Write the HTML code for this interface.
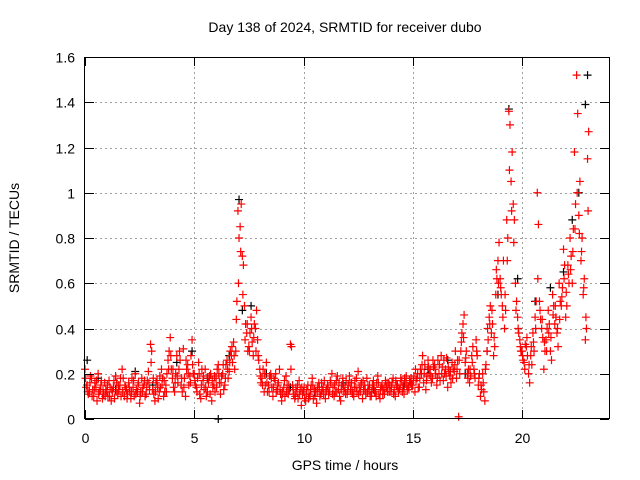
<!DOCTYPE html>
<html><head><meta charset="utf-8"><style>
body{margin:0;background:#fff}
svg{display:block;font-family:"Liberation Sans",Arial,sans-serif}
</style></head><body>
<svg id="chart" width="640" height="480">
<text x="345" y="32" font-size="14" text-anchor="middle">Day 138 of 2024, SRMTID for receiver dubo</text>
<g id="grid"></g>
<g id="marks"></g>
<rect x="84.5" y="57.5" width="525" height="361" fill="none" stroke="#000"/>
<g id="axes"></g>
<text x="345" y="470" font-size="14" text-anchor="middle">GPS time / hours</text>
<text transform="translate(19,238) rotate(-90)" font-size="14" text-anchor="middle">SRMTID / TECUs</text>
</svg>
<script>
const xTicks=[0,5,10,15,20];
const yTicks=[0,0.2,0.4,0.6,0.8,1,1.2,1.4,1.6];
const yTickLabels=["0","0.2","0.4","0.6","0.8","1","1.2","1.4","1.6"];
const redA=[.22,.15,.12,.18,.10,.14,.20,.13,.09,.16,
.12,.17,.08,.14,.19,.11,.15,.22,.10,.13,
.16,.09,.14,.20,.12,.07,.18,.15,.11,.21,
.33,.13,.08,.17,.12,.22,.10,.15,.26,.36,
.18,.12,.28,.22,.15,.31,.10,.24,.19,.35,
.20,.14,.25,.09,.17,.22,.12,.19,.08,.15,
.18,.24,.11,.20,.15,.26,.21,.28,.34,.30,
.92,.85,.72,.50,.38,.32,.45,.28,.40,.35,
.22,.18,.12,.25,.15,.20,.10,.17,.13,.22,
.08,.14,.19,.11,.33,.15,.09,.12,.17,.06,
.12,.08,.15,.10,.18,.13,.07,.16,.11,.14,
.09,.15,.12,.20,.10,.17,.13,.08,.18,.14,
.11,.19,.16,.10,.14,.21,.12,.09,.15,.18,
.13,.10,.17,.12,.19,.09,.15,.11,.14,.16,
.12,.18,.10,.15,.13,.17,.11,.19,.14,.16,
.15,.12,.18,.14,.20,.16,.13,.26,.22,.18,
.24,.15,.20,.28,.17,.22,.14,.19,.25,.21,
.18,.01,.30,.42,.25,.20,.16,.28,.22,.35,
.15,.10,.20,.08,.30,.45,.38,.28,.55,.70,
.62,.50,.40,.88,1.36,1.05,.95,.60,.45,.35,
.30,.25,.32,.20,.28,.38,.45,1.00,.52,.40,
.22,.35,.48,.30,.55,.42,.38,.60,.50,.75,
.45,.68,.80,.60,1.18,1.52,.90,.70,.55,.35,
1.15];
const redB=[.14,.11,.19,.13,.16,.08,.12,.17,.11,.13,
.10,.14,.12,.09,.16,.13,.10,.18,.14,.11,
.12,.18,.10,.13,.16,.12,.14,.10,.17,.13,
.30,.11,.16,.09,.14,.18,.12,.20,.30,.22,
.14,.20,.16,.26,.12,.18,.22,.15,.28,.20,
.15,.18,.11,.22,.13,.10,.16,.20,.14,.12,
.22,.16,.19,.13,.24,.18,.30,.25,.22,.52,
.80,.95,.68,.42,.30,.38,.34,.42,.48,.26,
.16,.22,.15,.12,.19,.14,.18,.12,.16,.11,
.12,.10,.15,.13,.32,.11,.14,.09,.13,.11,
.09,.13,.11,.15,.09,.12,.14,.10,.13,.17,
.13,.11,.16,.14,.12,.19,.10,.15,.12,.17,
.15,.13,.11,.17,.12,.14,.16,.13,.11,.15,
.10,.15,.12,.16,.11,.14,.13,.17,.12,.15,
.16,.13,.15,.12,.18,.14,.16,.13,.17,.15,
.19,.17,.14,.22,.28,.24,.19,.20,.16,.23,
.20,.26,.17,.23,.20,.27,.21,.16,.22,.30,
.26,.20,.38,.46,.30,.22,.19,.32,.18,.28,
.20,.13,.12,.24,.35,.50,.42,.32,.62,.78,
.55,.70,.48,.80,1.30,1.18,.88,.52,.38,.30,
.26,.33,.28,.16,.24,.30,.52,.86,.44,.36,
.30,.40,.42,.26,.50,.45,.32,.52,.58,.68,
.50,.60,.72,.84,.95,1.35,1.05,.80,.62,.40,
1.27];
const redC=[.18,.12,.16,.10,.13,.17,.11,.15,.13,.10,
.15,.10,.13,.17,.12,.15,.18,.12,.15,.09,
.14,.12,.17,.11,.15,.10,.12,.17,.14,.16,
.25,.18,.12,.14,.19,.15,.17,.12,.22,.28,
.22,.16,.19,.30,.18,.14,.26,.20,.16,.24,
.17,.12,.20,.15,.19,.14,.18,.11,.17,.19,
.14,.20,.16,.24,.18,.22,.25,.32,.28,.44,
.60,.74,.55,.35,.42,.30,.40,.36,.30,.28,
.19,.15,.20,.16,.12,.18,.14,.20,.15,.13,
.11,.17,.12,.15,.22,.13,.10,.15,.11,.14,
.14,.11,.09,.13,.15,.10,.12,.14,.16,.11,
.12,.14,.17,.11,.15,.12,.16,.13,.15,.11,
.13,.16,.12,.14,.18,.11,.15,.17,.13,.12,
.15,.12,.14,.10,.16,.13,.11,.14,.16,.12,
.14,.11,.17,.14,.15,.12,.18,.15,.13,.18,
.17,.22,.20,.18,.24,.20,.17,.23,.19,.26,
.22,.18,.24,.20,.26,.19,.23,.21,.18,.24,
.22,.26,.34,.36,.27,.18,.22,.25,.20,.30,
.18,.15,.16,.22,.40,.42,.48,.36,.66,.60,
.58,.45,.55,.70,1.10,.92,.78,.48,.40,.32,
.28,.22,.36,.24,.32,.34,.40,.62,.48,.44,
.34,.30,.38,.36,.46,.50,.40,.44,.54,.62,
.56,.64,.66,.74,.84,1.00,.82,.74,.58,.45,
.92];
const blackT=[0.1,0.6,1.4,2.3,3.1,4.2,4.9,5.6,6.1,6.6,7.05,7.2,7.6,8.3,9.4,10.5,11.8,13.2,14.6,15.7,16.6,17.4,18.4,18.9,19.4,19.8,20.6,21.3,21.9,22.3,22.6,22.9,23.0];
const blackV=[.26,.18,.13,.21,.15,.25,.30,.18,0.0,.28,.97,.48,.50,.20,.14,.12,.16,.13,.15,.22,.26,.20,.30,.55,1.37,.62,.52,.58,.65,.88,1.00,1.39,1.52];
const X0=85,XS=21.85,Y0=419,YS=226.25;
const xp=t=>X0+t*XS, yp=v=>Y0-v*YS;
const NS="http://www.w3.org/2000/svg";
const grid=document.getElementById('grid'),axes=document.getElementById('axes'),marks=document.getElementById('marks');
function mk(tag,attrs,parent){const e=document.createElementNS(NS,tag);for(const k in attrs)e.setAttribute(k,attrs[k]);parent.appendChild(e);return e;}
xTicks.forEach(t=>{const x=Math.round(xp(t))+.5;
 if(t>0){const g=mk('line',{x1:x,x2:x,y1:57,y2:419,stroke:'#a0a0a0','stroke-dasharray':'2,3'},grid);
 
 }
 mk('line',{x1:x,x2:x,y1:419,y2:410,stroke:'#000'},axes);mk('line',{x1:x,x2:x,y1:57,y2:66,stroke:'#000'},axes);
 const l=mk('text',{x:x,y:443,'font-size':14,'text-anchor':'middle'},axes);l.textContent=t;
 
 });
yTicks.forEach((v,i)=>{const y=Math.round(yp(v))+.5;
 if(i>0&&i<yTicks.length-1){const g=mk('line',{x1:85,x2:609,y1:y,y2:y,stroke:'#a0a0a0','stroke-dasharray':'2,3'},grid);
 
 }
 mk('line',{x1:85,x2:94,y1:y,y2:y,stroke:'#000'},axes);mk('line',{x1:600,x2:609,y1:y,y2:y,stroke:'#000'},axes);
 const l=mk('text',{x:75,y:y+5,'font-size':14,'text-anchor':'end'},axes);l.textContent=yTickLabels[i];
 
 });
function plus(t,v,col,name){const x=xp(t),y=yp(v);
 const p=mk('path',{d:`M${x-4} ${y}H${x+4}M${x} ${y-4}V${y+4}`,stroke:col,'stroke-width':1.2,fill:'none'},marks);
 
 }
blackT.forEach((t,i)=>plus(t,blackV[i],'#000','black-point'));
redA.forEach((v,i)=>plus(i*0.1,v,'#ff0000','red-point'));
redB.forEach((v,i)=>plus(i*0.1+0.05,v,'#ff0000','red-point'));
redC.forEach((v,i)=>plus(i*0.1+0.025,v,'#ff0000','red-point'));
</script>
</body></html>
